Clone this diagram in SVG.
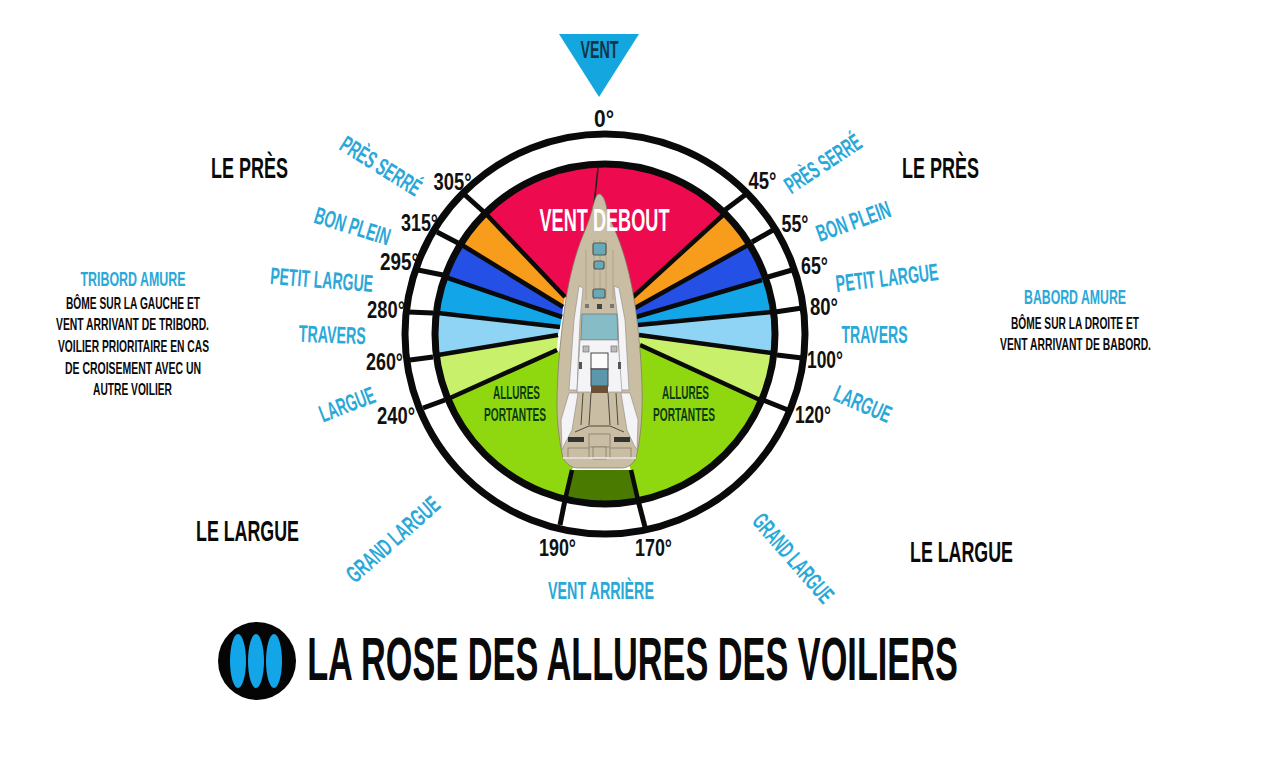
<svg xmlns="http://www.w3.org/2000/svg" width="1280" height="762" viewBox="0 0 1280 762">
<style>
text{font-family:"Liberation Sans",Arial,sans-serif;font-weight:700;text-anchor:middle}
.blue{fill:#2aa8d8;font-size:24px}
.deg{fill:#111;font-size:24px}
.big{fill:#0a0a0a;font-size:30px}
.sm{fill:#0a0a0a;font-size:16.5px}
.side{fill:#2aa8d8;font-size:20px}
.port{fill:#0d3b12;font-size:18px}
.ln{stroke:#0a0a0a;stroke-width:4.5;fill:none}
.tick{stroke:#0a0a0a;stroke-width:5;fill:none}
.ring{fill:none;stroke:#0a0a0a;stroke-width:7}
.deck{fill:#c9bda3;stroke:#7c7564;stroke-width:.7}
.hatch{fill:#66a9b8;stroke:#57574e;stroke-width:1.2}
.wh{fill:#f4f4f6;stroke:#8a8a8a;stroke-width:.6}
.dk{stroke:#4f4a3e;stroke-width:1;fill:none}
</style>
<defs><clipPath id="disc"><circle cx="605" cy="334" r="170"/></clipPath></defs>
<rect width="1280" height="762" fill="#fff"/>
<g id="sectors" clip-path="url(#disc)">
<polygon fill="#ee0a4e" points="600,320 565,297 409,133 600,100 810,133 633,297"/>
<polygon fill="#f89c1c" points="633,297 810,133 861,182 635,308"/>
<polygon fill="#f89c1c" points="565,297 409,133 361,183 563,307"/>
<polygon fill="#2550e5" points="635,308 861,182 888,243 636,317"/>
<polygon fill="#2550e5" points="563,307 361,183 334,239 562,317"/>
<polygon fill="#12a5e8" points="636,317 888,243 906,299 638,325"/>
<polygon fill="#12a5e8" points="562,317 334,239 316,299 560,327"/>
<polygon fill="#8fd4f5" points="638,325 906,299 905,371 639,335"/>
<polygon fill="#8fd4f5" points="560,327 316,299 318,375 558,335"/>
<polygon fill="#c8f06a" points="639,335 905,371 880,455 640,345"/>
<polygon fill="#c8f06a" points="558,335 318,375 343,446 557,350"/>
<polygon fill="#8fd80f" points="640,345 880,455 880,560 645,530 631,470 600,400"/>
<polygon fill="#8fd80f" points="557,350 343,446 343,560 558,530 572,470 600,400"/>
<polygon fill="#4a7a00" points="572,470 631,470 641,515 562,515"/>
</g>
<g id="connectors">
<g class="ln">
<line x1="723" y1="215" x2="633" y2="297"/><line x1="748" y1="245" x2="635" y2="308"/><line x1="762" y1="280" x2="636" y2="317"/><line x1="772" y1="312" x2="638" y2="325"/><line x1="772" y1="353" x2="639" y2="335"/><line x1="760" y1="400" x2="640" y2="345"/><line x1="638" y1="500" x2="631" y2="470"/>
<line x1="487" y1="215" x2="565" y2="297"/><line x1="462" y1="245" x2="563" y2="307"/><line x1="448" y1="278" x2="562" y2="317"/><line x1="438" y1="313" x2="560" y2="327"/><line x1="438" y1="355" x2="558" y2="335"/><line x1="450" y1="398" x2="557" y2="350"/><line x1="565" y1="500" x2="572" y2="470"/>
</g>
<g class="tick">
<line x1="725" y1="210" x2="745" y2="195"/><line x1="752" y1="242" x2="773" y2="230"/><line x1="768" y1="277" x2="792" y2="270"/><line x1="775" y1="312" x2="802" y2="308"/><line x1="777" y1="355" x2="802" y2="358"/><line x1="763" y1="400" x2="788" y2="410"/><line x1="638" y1="500" x2="645" y2="527"/>
<line x1="485" y1="213" x2="465" y2="195"/><line x1="458" y1="243" x2="437" y2="232"/><line x1="443" y1="275" x2="418" y2="270"/><line x1="433" y1="313" x2="408" y2="312"/><line x1="433" y1="357" x2="410" y2="360"/><line x1="445" y1="400" x2="423" y2="408"/><line x1="565" y1="500" x2="560" y2="525"/>
</g>
</g>
<g id="rose">
<circle class="ring" cx="605" cy="334" r="170"/>
<circle class="ring" cx="605" cy="334" r="200"/>
</g>
<g id="boat">
<line x1="598" y1="168" x2="594" y2="205" stroke="#222" stroke-width="1.6"/>
<path class="deck" d="M599 194 C603 194 606 202 607 210 C611 222 616 232 620 243 C627 262 632 285 635 305 C640 340 643 380 642 410 C641 435 638 450 636 458 C633 464 628 468 622 468 L578 468 C572 468 566 464 563 458 C560 445 557 425 557 405 C557 370 561 335 565 305 C568 285 573 262 580 243 C584 232 589 222 592 210 C594 202 596 194 599 194Z"/>
<path d="M600 240V300M594 240V300M606 240V300M586 250V300M613 250V300" stroke="#a89c84" stroke-width=".8"/>
<rect class="hatch" x="593" y="243" width="13" height="12" rx="2"/>
<rect class="hatch" x="594" y="261" width="10" height="8" rx="2"/>
<rect class="hatch" x="593" y="289" width="12" height="9" rx="2"/>
<path class="wh" d="M579 286 L583 288 L580 320 L577 390 L569 390 L574 320Z"/>
<path class="wh" d="M614 286 L619 288 L625 320 L629 390 L620 390 L618 320Z"/>
<rect x="585" y="304" width="4" height="4" fill="#777"/><rect x="597" y="304" width="5" height="5" fill="#444"/><rect x="610" y="304" width="4" height="4" fill="#777"/>
<path d="M582 314 L617 314 L618 340 L581 340Z" fill="#86bcc6" stroke="#777" stroke-width=".8"/>
<path class="wh" d="M580 340 L618 340 L622 392 L577 392Z"/>
<rect x="591" y="353" width="17" height="16" fill="#fbfbfb" stroke="#444" stroke-width="1"/>
<rect x="591" y="369" width="17" height="17" fill="#5d97ab" stroke="#444" stroke-width="1"/>
<rect x="591" y="386" width="17" height="7" fill="#6b4f35"/>
<rect x="583" y="346" width="6" height="6" fill="#bbb" stroke="#666" stroke-width=".6"/><rect x="611" y="346" width="6" height="6" fill="#bbb" stroke="#666" stroke-width=".6"/>
<rect x="579" y="362" width="3" height="7" fill="#555"/><rect x="618" y="362" width="3" height="7" fill="#555"/>
<path class="dk" d="M575 393 L571 430 M583 393 L581 425 M591 393 L589 425 M608 393 L610 425 M616 393 L618 425 M624 393 L628 430"/>
<path class="wh" d="M569 393 L578 393 L572 430 L564 445 L562 450 L561 420Z"/>
<path class="wh" d="M630 393 L621 393 L627 430 L634 445 L637 450 L638 420Z"/>
<path class="dk" d="M575 432 L589 426 L610 426 L624 432"/>
<rect x="589" y="434" width="21" height="13" class="deck"/>
<rect x="593" y="447" width="13" height="12" class="deck"/>
<rect x="568" y="437" width="16" height="5" fill="#333"/>
<rect x="614" y="437" width="16" height="5" fill="#333"/>
<rect x="568" y="448" width="21" height="10" class="deck"/>
<rect x="610" y="448" width="21" height="10" class="deck"/>
<path d="M563 458 L636 458" stroke="#eee" stroke-width="1.4"/>
</g>
<g id="vent">
<polygon fill="#13a6df" points="559,34 639,34 599,97"/>
<text x="599.5" y="58" font-size="24" fill="#173447" textLength="38" lengthAdjust="spacingAndGlyphs">VENT</text>
</g>
<g id="vent-debout"><text x="604.5" y="231" font-size="32" fill="#fff" textLength="130" lengthAdjust="spacingAndGlyphs">VENT DEBOUT</text></g>
<g id="allures-gauche"><text class="port" x="516.5" y="399" textLength="47" lengthAdjust="spacingAndGlyphs">ALLURES</text><text class="port" x="515" y="421" textLength="62" lengthAdjust="spacingAndGlyphs">PORTANTES</text></g>
<g id="allures-droite"><text class="port" x="685.5" y="399" textLength="47" lengthAdjust="spacingAndGlyphs">ALLURES</text><text class="port" x="684" y="421" textLength="62" lengthAdjust="spacingAndGlyphs">PORTANTES</text></g>
<g id="degres">
<text class="deg" x="604" y="127" textLength="20" lengthAdjust="spacingAndGlyphs">0°</text>
<text class="deg" x="452.5" y="190" textLength="38" lengthAdjust="spacingAndGlyphs">305°</text>
<text class="deg" x="419.5" y="231" textLength="37" lengthAdjust="spacingAndGlyphs">315°</text>
<text class="deg" x="399.5" y="270" textLength="39" lengthAdjust="spacingAndGlyphs">295°</text>
<text class="deg" x="386" y="318" textLength="38" lengthAdjust="spacingAndGlyphs">280°</text>
<text class="deg" x="384.5" y="370" textLength="37" lengthAdjust="spacingAndGlyphs">260°</text>
<text class="deg" x="396" y="424" textLength="38" lengthAdjust="spacingAndGlyphs">240°</text>
<text class="deg" x="762.5" y="189" textLength="28" lengthAdjust="spacingAndGlyphs">45°</text>
<text class="deg" x="795" y="232" textLength="27" lengthAdjust="spacingAndGlyphs">55°</text>
<text class="deg" x="814.5" y="274" textLength="27" lengthAdjust="spacingAndGlyphs">65°</text>
<text class="deg" x="824" y="315" textLength="28" lengthAdjust="spacingAndGlyphs">80°</text>
<text class="deg" x="825" y="368" textLength="36" lengthAdjust="spacingAndGlyphs">100°</text>
<text class="deg" x="813" y="423" textLength="36" lengthAdjust="spacingAndGlyphs">120°</text>
<text class="deg" x="557.5" y="556" textLength="37" lengthAdjust="spacingAndGlyphs">190°</text>
<text class="deg" x="653.5" y="556" textLength="37" lengthAdjust="spacingAndGlyphs">170°</text>
</g>
<g id="allures">
<text class="blue" transform="translate(376.5,173) rotate(32)" textLength="91" lengthAdjust="spacingAndGlyphs">PRÈS SERRÉ</text>
<text class="blue" transform="translate(350,234) rotate(17)" textLength="78" lengthAdjust="spacingAndGlyphs">BON PLEIN</text>
<text class="blue" transform="translate(321,288) rotate(4.5)" textLength="103" lengthAdjust="spacingAndGlyphs">PETIT LARGUE</text>
<text class="blue" transform="translate(332,343) rotate(2)" textLength="67" lengthAdjust="spacingAndGlyphs">TRAVERS</text>
<text class="blue" transform="translate(350,412) rotate(-21)" textLength="58" lengthAdjust="spacingAndGlyphs">LARGUE</text>
<text class="blue" transform="translate(398.5,545.5) rotate(-41.5)" textLength="116" lengthAdjust="spacingAndGlyphs">GRAND LARGUE</text>
<text class="blue" x="601" y="599" textLength="106" lengthAdjust="spacingAndGlyphs">VENT ARRIÈRE</text>
<text class="blue" transform="translate(827.5,170.5) rotate(-33.5)" textLength="87" lengthAdjust="spacingAndGlyphs">PRÈS SERRÉ</text>
<text class="blue" transform="translate(856,229) rotate(-19.6)" textLength="77" lengthAdjust="spacingAndGlyphs">BON PLEIN</text>
<text class="blue" transform="translate(888,286) rotate(-6.7)" textLength="103" lengthAdjust="spacingAndGlyphs">PETIT LARGUE</text>
<text class="blue" x="874.5" y="343" textLength="66" lengthAdjust="spacingAndGlyphs">TRAVERS</text>
<text class="blue" transform="translate(859.5,411.5) rotate(23)" textLength="60" lengthAdjust="spacingAndGlyphs">LARGUE</text>
<text class="blue" transform="translate(787,563.5) rotate(49)" textLength="110" lengthAdjust="spacingAndGlyphs">GRAND LARGUE</text>
</g>
<g id="zones">
<text class="big" x="249.5" y="178" textLength="77" lengthAdjust="spacingAndGlyphs">LE PRÈS</text>
<text class="big" x="940.5" y="178" textLength="77" lengthAdjust="spacingAndGlyphs">LE PRÈS</text>
<text class="big" x="247.5" y="541" textLength="103" lengthAdjust="spacingAndGlyphs">LE LARGUE</text>
<text class="big" x="961.5" y="562" textLength="103" lengthAdjust="spacingAndGlyphs">LE LARGUE</text>
</g>
<g id="tribord">
<text class="side" x="133" y="286" textLength="105" lengthAdjust="spacingAndGlyphs">TRIBORD AMURE</text>
<text class="sm" x="133" y="309" textLength="134" lengthAdjust="spacingAndGlyphs">BÔME SUR LA GAUCHE ET</text>
<text class="sm" x="132.5" y="330" textLength="153" lengthAdjust="spacingAndGlyphs">VENT ARRIVANT DE TRIBORD.</text>
<text class="sm" x="133.5" y="352" textLength="151" lengthAdjust="spacingAndGlyphs">VOILIER PRIORITAIRE EN CAS</text>
<text class="sm" x="133" y="374" textLength="136" lengthAdjust="spacingAndGlyphs">DE CROISEMENT AVEC UN</text>
<text class="sm" x="132.5" y="395" textLength="79" lengthAdjust="spacingAndGlyphs">AUTRE VOILIER</text>
</g>
<g id="babord">
<text class="side" x="1075" y="304" textLength="102" lengthAdjust="spacingAndGlyphs">BABORD AMURE</text>
<text class="sm" x="1075" y="329" textLength="128" lengthAdjust="spacingAndGlyphs">BÔME SUR LA DROITE ET</text>
<text class="sm" x="1075.5" y="350" textLength="151" lengthAdjust="spacingAndGlyphs">VENT ARRIVANT DE BABORD.</text>
</g>
<g id="titre">
<circle cx="257" cy="661" r="39" fill="#050505"/>
<ellipse cx="238" cy="661" rx="8" ry="27" fill="#12a5e8"/>
<ellipse cx="256" cy="661" rx="8" ry="27" fill="#12a5e8"/>
<ellipse cx="274" cy="661" rx="8" ry="27" fill="#12a5e8"/>
<text transform="translate(632.5,680) scale(.553,1)" font-size="62" fill="#0a0a0a">LA ROSE DES ALLURES DES VOILIERS</text>
</g>
</svg>
